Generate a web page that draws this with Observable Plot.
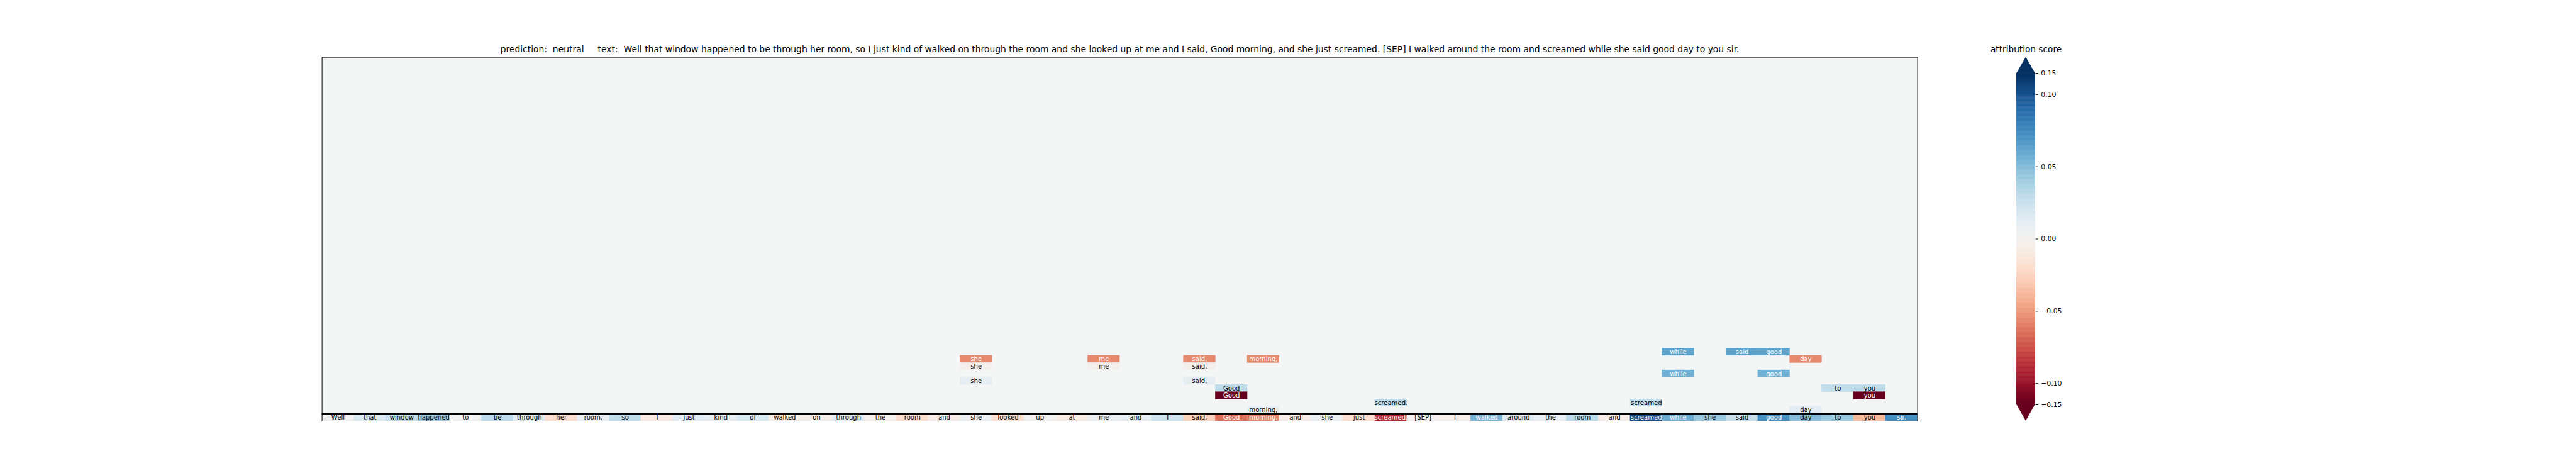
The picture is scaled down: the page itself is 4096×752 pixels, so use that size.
<!DOCTYPE html>
<html>
<head>
<meta charset="utf-8">
<script src="https://cdn.jsdelivr.net/npm/d3@7"></script>
<script src="https://cdn.jsdelivr.net/npm/@observablehq/plot@0.6"></script>
<style>
  html, body { margin: 0; padding: 0; background: #fff; }
  #chart { position: relative; width: 4096px; height: 752px; overflow: hidden; }
  #chart svg { position: absolute; top: 0; }
</style>
</head>
<body>
<div id="chart"></div>
<script>
// ---------------- data ----------------
const predictionLabel = "neutral";
const inputText = "Well that window happened to be through her room, so I just kind of walked on through the room and she looked up at me and I said, Good morning, and she just screamed. [SEP] I walked around the room and screamed while she said good day to you sir.";

const tokens = ["Well","that","window","happened","to","be","through","her","room,","so","I","just","kind","of","walked","on","through","the","room","and","she","looked","up","at","me","and","I","said,","Good","morning,","and","she","just","screamed.","[SEP]","I","walked","around","the","room","and","screamed","while","she","said","good","day","to","you","sir."];

// attribution score of every token (bottom row)
const tokenScores = [0.001, 0.016, 0.027, 0.041, 0.003, 0.030, 0.014, -0.018, 0.006, 0.028,
  -0.009, 0.012, 0.009, 0.017, -0.006, -0.003, 0.013, -0.002, -0.019, -0.005,
  0.006, -0.017, 0.001, -0.006, 0.005, 0.009, 0.023, -0.025, -0.064, -0.057,
  -0.005, 0.006, -0.018, -0.087, 0.000, -0.004, 0.053, 0.013, 0.007, 0.031,
  -0.005, 0.108, 0.057, 0.041, 0.025, 0.071, 0.049, 0.042, -0.036, 0.072];

// the other highlighted cells: row index, token (column) index, score
const cellRows   = [40, 40, 40, 41, 41, 41, 41, 41, 42, 42, 42, 43, 43, 44, 44, 45, 45, 45, 46, 46, 47, 47, 48, 48];
const cellCols   = [42, 44, 45, 20, 24, 27, 29, 46, 20, 24, 27, 42, 45, 20, 27, 28, 47, 48, 28, 48, 33, 41, 29, 46];
const cellScores = [0.062, 0.062, 0.061, -0.055, -0.055, -0.055, -0.055, -0.055, -0.001, -0.001, -0.001,
  0.055, 0.055, 0.009, 0.009, 0.029, 0.028, 0.029, -0.16, -0.16, 0.029, 0.028, 0.009, 0.012];

const colorbarTitle = "attribution score";
const colorbarTicks = [-0.15, -0.10, -0.05, 0.00, 0.05, 0.10, 0.15];
const colorStops = [-0.15, -0.10, 0.10, 0.15];   // score stops of the colour map
const colorStopT = [0, 0.064, 0.936, 1];          // position of each stop in RdBu
const whiteTextAbove = 0.05;                       // |score| above which the label is white

// ---------------- layout ----------------
const S = 0.835;
const W = 4096, H = 752;
const frame = {left: 612.7 * S, right: 3651 * S, top: 108.5 * S, bottom: 801.2 * S};
const titleDy = (99.3 - 108.5) * S;
const nRows = tokens.length;

const colorOpts = {
  type: "linear",
  domain: colorStops,
  range: colorStopT,
  interpolate: d3.interpolateRdBu,
  clamp: true
};

const cells = cellRows.map((r, i) => ({row: r, col: cellCols[i], score: cellScores[i]}))
  .concat(tokens.map((t, i) => ({row: nRows - 1, col: i, score: tokenScores[i]})));

const titleText = `prediction:  ${predictionLabel}     text:  ${inputText}`;
const cellFont = 10.1;

const main = Plot.plot({
  width: W, height: H,
  marginLeft: frame.left, marginRight: W - frame.right,
  marginTop: frame.top, marginBottom: H - frame.bottom,
  x: {domain: [0, tokens.length], axis: null},
  y: {domain: [0, nRows], reverse: true, axis: null},
  color: colorOpts,
  style: {fontFamily: "DejaVu Sans", background: "transparent", color: "black", overflow: "visible"},
  marks: [
    Plot.frame({fill: "#f4f6f6"}),
    Plot.rect(cells, {x1: "col", x2: d => d.col + 1, y1: "row", y2: d => d.row + 1, fill: "score", stroke: "score", strokeWidth: 0.4}),
    Plot.text(cells.filter(d => Math.abs(d.score) <= whiteTextAbove), {
      x: d => d.col + 0.5, y: d => d.row + 0.5, text: d => tokens[d.col], fill: "black", fontSize: cellFont
    }),
    Plot.text(cells.filter(d => Math.abs(d.score) > whiteTextAbove), {
      x: d => d.col + 0.5, y: d => d.row + 0.5, text: d => tokens[d.col], fill: "white", fontSize: cellFont
    }),
    Plot.ruleY([nRows - 1], {stroke: "black", strokeWidth: 2}),
    Plot.frame({stroke: "black", strokeWidth: 1}),
    Plot.text([titleText], {frameAnchor: "top", dy: titleDy, lineAnchor: "bottom", text: d => d, fontSize: 13.9, fill: "black"})
  ]
});
main.style.left = "0px";
document.getElementById("chart").appendChild(main);

// ---------------- colour bar ----------------
const cbLeft = 3100, cbW = 400;
const bar = {x0: 3840 * S, x1: 3875 * S, top: 139 * S, bottom: 770 * S};
const barH = bar.bottom - bar.top;
const tipScore = 0.2; // arrow tips (out-of-range extensions)
const cbDomain = [-tipScore, ...colorStops, tipScore];
const cbRange = [frame.bottom, ...colorStopT.map(t => bar.bottom - t * barH), frame.top];

const step = 0.0005;
const gradient = d3.range(colorStops[0], colorStops[colorStops.length - 1], step);
const topArrow = [{x: 0, y: colorStops[3]}, {x: 0.5, y: tipScore}, {x: 1, y: colorStops[3]}];
const botArrow = [{x: 0, y: colorStops[0]}, {x: 0.5, y: -tipScore}, {x: 1, y: colorStops[0]}];

const cbar = Plot.plot({
  width: cbW, height: H,
  marginLeft: bar.x0 - cbLeft, marginRight: cbLeft + cbW - bar.x1,
  marginTop: frame.top, marginBottom: H - frame.bottom,
  x: {domain: [0, 1], axis: null},
  y: {type: "linear", domain: cbDomain, range: cbRange, axis: null},
  color: colorOpts,
  style: {fontFamily: "DejaVu Sans", background: "transparent", color: "black", overflow: "visible"},
  marks: [
    Plot.rect(gradient, {x1: 0, x2: 1, y1: d => d, y2: d => d + step, fill: d => d + step / 2, stroke: d => d + step / 2, strokeWidth: 0.5}),
    Plot.areaY(topArrow, {x: "x", y1: colorStops[3], y2: "y", fill: d3.interpolateRdBu(1)}),
    Plot.areaY(botArrow, {x: "x", y1: colorStops[0], y2: "y", fill: d3.interpolateRdBu(0)}),
    Plot.axisY({anchor: "right", ticks: colorbarTicks, tickFormat: d3.format(".2f"), tickSize: 4.2, tickPadding: 5, fontSize: 10.8, label: null, stroke: "black", fill: "black"}),
    Plot.text([colorbarTitle], {frameAnchor: "top", dy: titleDy, lineAnchor: "bottom", text: d => d, fontSize: 13.7, fill: "black"})
  ]
});
cbar.style.left = cbLeft + "px";
document.getElementById("chart").appendChild(cbar);
</script>
</body>
</html>
